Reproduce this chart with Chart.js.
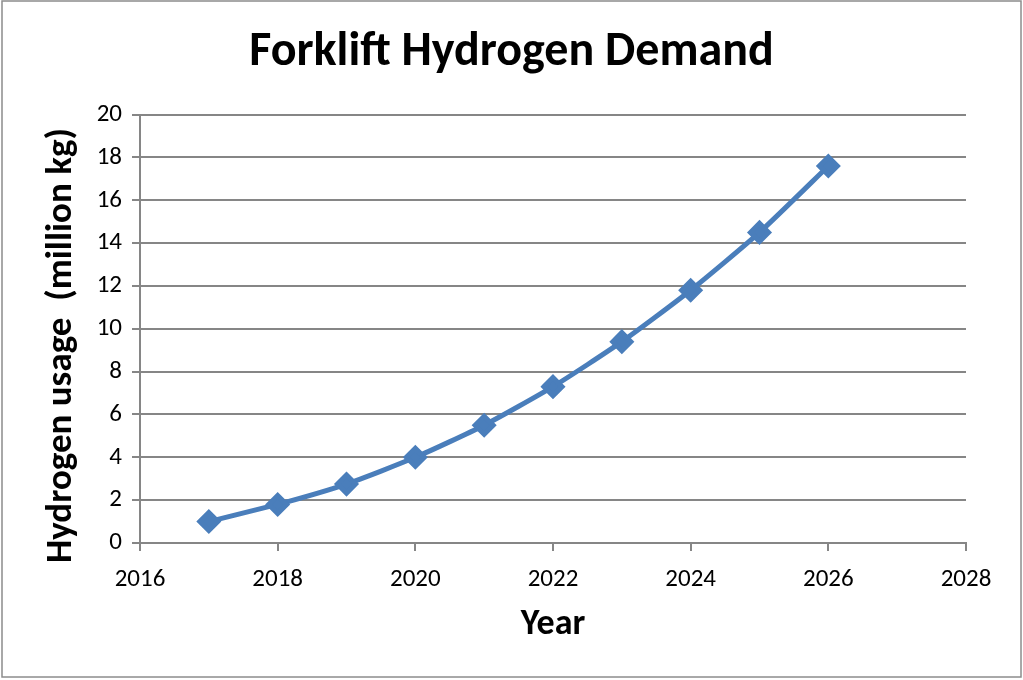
<!DOCTYPE html>
<html>
<head>
<meta charset="utf-8">
<script src="https://cdn.jsdelivr.net/npm/chart.js@4/dist/chart.umd.min.js"></script>
<style>
  html, body { margin: 0; padding: 0; background: #fff; }
  #wrap { width: 1023px; height: 680px; position: relative; }
</style>
</head>
<body>
<div id="wrap"><canvas id="demandChart"></canvas></div>
<script>
const years = [2017, 2018, 2019, 2020, 2021, 2022, 2023, 2024, 2025, 2026];
const hydrogenUsage = [1.0, 1.8, 2.75, 4.0, 5.5, 7.3, 9.4, 11.8, 14.5, 17.6];
const xTicks = [2016, 2018, 2020, 2022, 2024, 2026, 2028];
const yTicks = [0, 2, 4, 6, 8, 10, 12, 14, 16, 18, 20];

const FONT = "Carlito, Lato, 'Open Sans', sans-serif";

// frame around the whole chart, like the spreadsheet chart area
const framePlugin = {
  id: "frame",
  beforeDraw(chart) {
    const ctx = chart.ctx;
    ctx.save();
    ctx.fillStyle = "#fff";
    ctx.fillRect(0, 0, chart.width, chart.height);
    ctx.strokeStyle = "#8c8c8c";
    ctx.lineWidth = 1.5;
    ctx.strokeRect(2, 1, chart.width - 4, chart.height - 4);
    ctx.restore();
  }
};

const ctx = document.getElementById("demandChart");
new Chart(ctx, {
  type: "line",
  data: {
    datasets: [{
      label: "Hydrogen usage",
      data: years.map((y, i) => ({ x: y, y: hydrogenUsage[i] })),
      borderColor: "#4a7ebb",
      backgroundColor: "#4a7ebb",
      borderWidth: 5,
      pointStyle: "rectRot",
      pointRadius: 9,
      pointHoverRadius: 9,
      tension: 0.2,
      fill: false
    }]
  },
  options: {
    responsive: true,
    maintainAspectRatio: false,
    animation: false,
    layout: { padding: { top: 0, right: 0, bottom: 30, left: 0 } },
    plugins: {
      legend: { display: false },
      tooltip: { enabled: false },
      title: {
        display: true,
        text: "Forklift Hydrogen Demand",
        color: "#000",
        font: { family: FONT, size: 48, weight: "bold" },
        padding: { top: 24, bottom: 33 }
      }
    },
    scales: {
      x: {
        type: "linear",
        min: 2016,
        max: 2028,
        afterBuildTicks(scale) {
          scale.ticks = xTicks.map(v => ({ value: v }));
        },
        afterFit(scale) { scale.height = 680 - 543 - 30; },
        border: { color: "#868686", width: 2 },
        grid: { drawOnChartArea: false, drawTicks: true, tickLength: 8, color: "#868686", lineWidth: 2 },
        ticks: {
          color: "#000",
          font: { family: FONT, size: 25 },
          padding: 14,
          maxRotation: 0,
          callback: v => String(v)
        },
        title: {
          display: true,
          text: "Year",
          color: "#000",
          font: { family: FONT, size: 36, weight: "bold" },
          padding: { top: 0, bottom: 3 }
        }
      },
      y: {
        min: 0,
        max: 20,
        afterBuildTicks(scale) {
          scale.ticks = yTicks.map(v => ({ value: v }));
        },
        afterFit(scale) { scale.width = 140; },
        border: { color: "#868686", width: 2 },
        grid: { color: "#868686", lineWidth: 2, drawTicks: true, tickLength: 8 },
        ticks: {
          color: "#000",
          font: { family: FONT, size: 25 },
          padding: 10
        },
        title: {
          display: true,
          text: "Hydrogen usage  (million kg)    ",
          color: "#000",
          font: { family: FONT, size: 37, weight: "bold" },
          padding: { top: 40, bottom: 0 }
        }
      },
      // empty right-hand strip so the title stays centred on the whole chart
      yRight: {
        position: "right",
        min: 0,
        max: 20,
        afterFit(scale) { scale.width = 57; },
        border: { display: false },
        grid: { display: false },
        ticks: { display: false }
      }
    }
  },
  plugins: [framePlugin]
});
</script>
</body>
</html>
